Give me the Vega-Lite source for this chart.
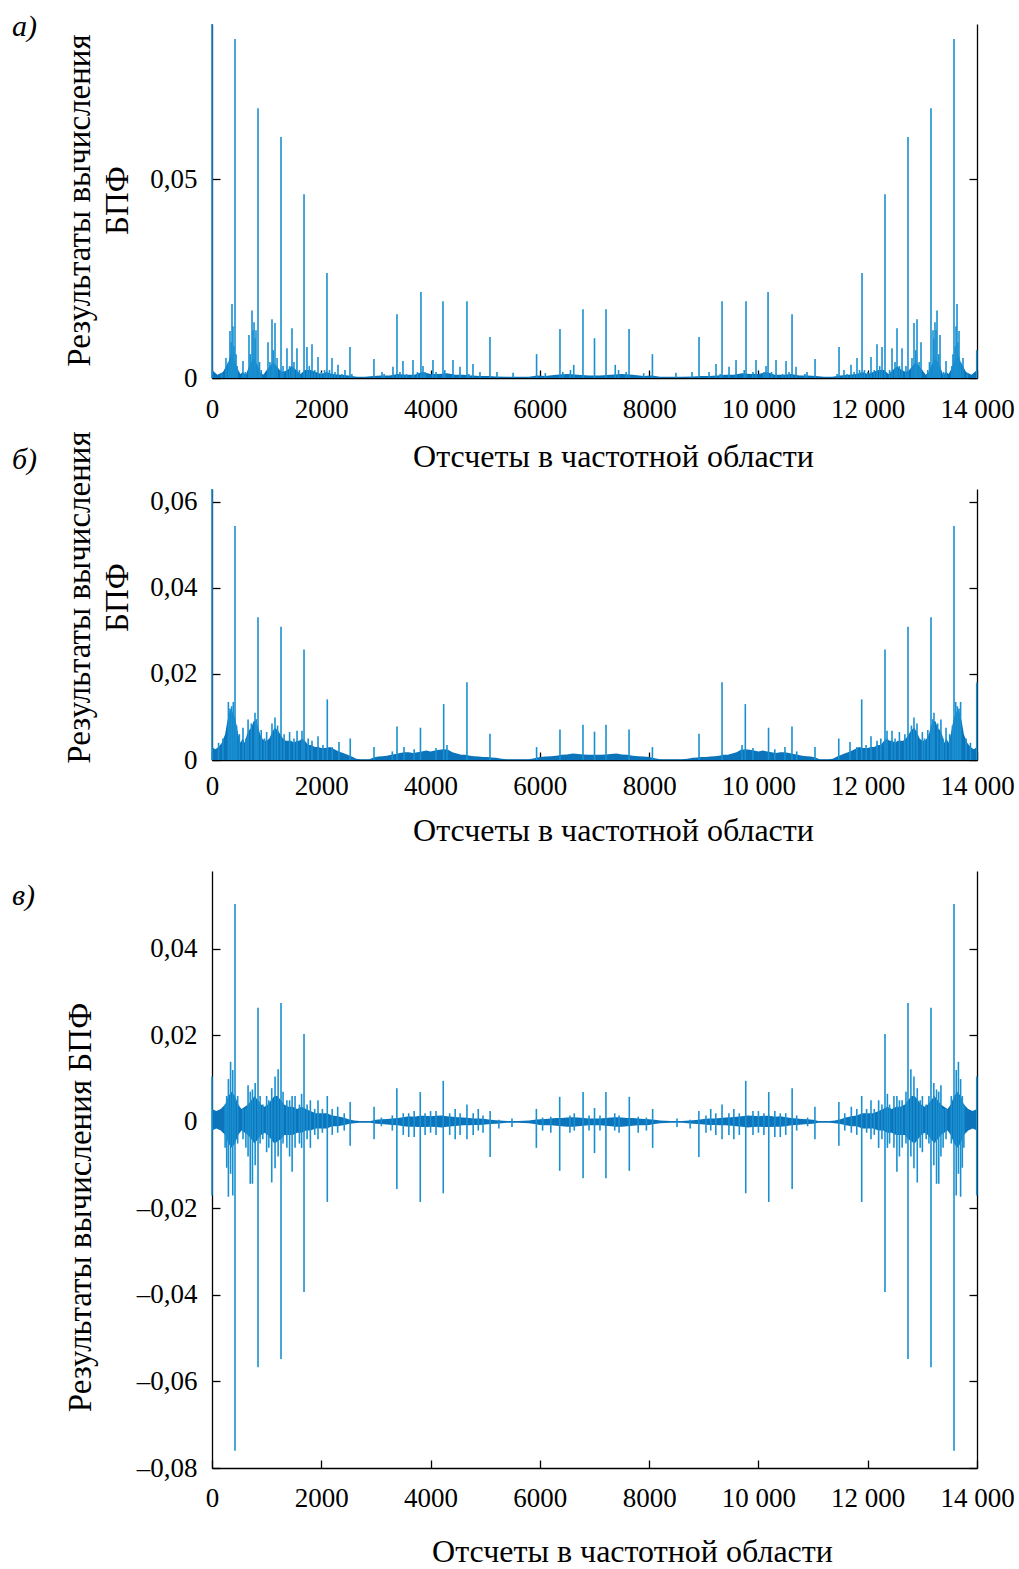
{
"$schema": "https://vega.github.io/schema/vega-lite/v6.json",
"background": "white",
"padding": {"left": 12, "top": 12, "right": 10, "bottom": 0},
"config": {
  "view": {"stroke": null},
  "axis": {"domainColor": "#000", "tickColor": "#000", "labelColor": "#000", "titleColor": "#000", "labelFont": "Liberation Serif", "titleFont": "Liberation Serif", "labelFontSize": 27, "titleFontSize": 32, "titleFontWeight": "normal", "grid": false, "domainWidth": 1.3, "tickWidth": 1.3}
},
"datasets": {
"aEnv": [{"x":0,"y":0.002},{"x":100,"y":0.0008},{"x":200,"y":0.0015},{"x":260,"y":0.003},{"x":300,"y":0.004},{"x":340,"y":0.006},{"x":380,"y":0.005},{"x":420,"y":0.004},{"x":460,"y":0.0025},{"x":520,"y":0.001},{"x":560,"y":0.0015},{"x":620,"y":0.0008},{"x":680,"y":0.003},{"x":720,"y":0.004},{"x":760,"y":0.005},{"x":800,"y":0.004},{"x":840,"y":0.003},{"x":880,"y":0.0015},{"x":940,"y":0.0008},{"x":1000,"y":0.002},{"x":1060,"y":0.003},{"x":1120,"y":0.004},{"x":1180,"y":0.003},{"x":1240,"y":0.002},{"x":1300,"y":0.0015},{"x":1380,"y":0.002},{"x":1460,"y":0.003},{"x":1540,"y":0.002},{"x":1620,"y":0.001},{"x":1700,"y":0.002},{"x":1800,"y":0.002},{"x":1900,"y":0.0015},{"x":2000,"y":0.001},{"x":2100,"y":0.0015},{"x":2200,"y":0.001},{"x":2350,"y":0.0008},{"x":2500,"y":0.0006},{"x":2650,"y":0.0003},{"x":2800,"y":0.0003},{"x":2950,"y":0.0005},{"x":3100,"y":0.0006},{"x":3250,"y":0.0006},{"x":3400,"y":0.001},{"x":3550,"y":0.0008},{"x":3700,"y":0.0008},{"x":3850,"y":0.0015},{"x":4000,"y":0.001},{"x":4150,"y":0.001},{"x":4300,"y":0.0012},{"x":4450,"y":0.0008},{"x":4600,"y":0.0008},{"x":4750,"y":0.0006},{"x":4900,"y":0.0005},{"x":5050,"y":0.0005},{"x":5200,"y":0.0004},{"x":5400,"y":0.0003},{"x":5600,"y":0.0003},{"x":5800,"y":0.0003},{"x":5950,"y":0.0006},{"x":6100,"y":0.0005},{"x":6300,"y":0.0008},{"x":6500,"y":0.001},{"x":6700,"y":0.0008},{"x":6900,"y":0.0006},{"x":7000,"y":0.0006},
{"x":7100,"y":0.0006},{"x":7300,"y":0.0008},{"x":7500,"y":0.001},{"x":7700,"y":0.0008},{"x":7900,"y":0.0005},{"x":8050,"y":0.0006},{"x":8200,"y":0.0003},{"x":8400,"y":0.0003},{"x":8600,"y":0.0003},{"x":8800,"y":0.0004},{"x":8950,"y":0.0005},{"x":9100,"y":0.0005},{"x":9250,"y":0.0006},{"x":9400,"y":0.0008},{"x":9550,"y":0.0008},{"x":9700,"y":0.0012},{"x":9850,"y":0.001},{"x":10000,"y":0.001},{"x":10150,"y":0.0015},{"x":10300,"y":0.0008},{"x":10450,"y":0.0008},{"x":10600,"y":0.001},{"x":10750,"y":0.0006},{"x":10900,"y":0.0006},{"x":11050,"y":0.0005},{"x":11200,"y":0.0003},{"x":11350,"y":0.0003},{"x":11500,"y":0.0006},{"x":11650,"y":0.0008},{"x":11800,"y":0.001},{"x":11900,"y":0.0015},{"x":12000,"y":0.001},{"x":12100,"y":0.0015},{"x":12200,"y":0.002},{"x":12300,"y":0.002},{"x":12380,"y":0.001},{"x":12460,"y":0.002},{"x":12540,"y":0.003},{"x":12620,"y":0.002},{"x":12700,"y":0.0015},{"x":12760,"y":0.002},{"x":12820,"y":0.003},{"x":12880,"y":0.004},{"x":12940,"y":0.003},{"x":13000,"y":0.002},{"x":13060,"y":0.0008},{"x":13120,"y":0.0015},{"x":13160,"y":0.003},{"x":13200,"y":0.004},{"x":13240,"y":0.005},{"x":13280,"y":0.004},{"x":13320,"y":0.003},{"x":13380,"y":0.0008},{"x":13440,"y":0.0015},{"x":13480,"y":0.001},{"x":13540,"y":0.0025},{"x":13580,"y":0.004},{"x":13620,"y":0.005},{"x":13660,"y":0.006},{"x":13700,"y":0.004},{"x":13740,"y":0.003},{"x":13800,"y":0.0015},{"x":13900,"y":0.0008},{"x":14000,"y":0.002}],
"aSpk": [{"x":0,"y":0.089},{"x":180,"y":0.0012},{"x":256,"y":0.005},{"x":300,"y":0.004},{"x":329,"y":0.0118},{"x":350,"y":0.009},{"x":366,"y":0.0186},{"x":384,"y":0.013},{"x":400,"y":0.008},{"x":421,"y":0.0852},{"x":440,"y":0.006},{"x":460,"y":0.003},{"x":567,"y":0.0043},{"x":610,"y":0.0015},{"x":677,"y":0.0108},{"x":700,"y":0.006},{"x":732,"y":0.017},{"x":750,"y":0.012},{"x":769,"y":0.014},{"x":790,"y":0.01},{"x":805,"y":0.012},{"x":842,"y":0.0678},{"x":870,"y":0.004},{"x":900,"y":0.002},{"x":1025,"y":0.009},{"x":1060,"y":0.004},{"x":1098,"y":0.0148},{"x":1120,"y":0.007},{"x":1153,"y":0.0138},{"x":1190,"y":0.005},{"x":1263,"y":0.0606},{"x":1300,"y":0.003},{"x":1372,"y":0.0075},{"x":1420,"y":0.003},{"x":1464,"y":0.0125},{"x":1500,"y":0.004},{"x":1555,"y":0.0075},{"x":1600,"y":0.002},{"x":1684,"y":0.0462},{"x":1738,"y":0.0078},{"x":1780,"y":0.003},{"x":1830,"y":0.0085},{"x":1880,"y":0.002},{"x":1940,"y":0.0053},{"x":2000,"y":0.0015},{"x":2060,"y":0.002},{"x":2104,"y":0.0264},{"x":2150,"y":0.002},{"x":2196,"y":0.005},{"x":2250,"y":0.0015},{"x":2306,"y":0.0033},{"x":2380,"y":0.001},{"x":2434,"y":0.002},{"x":2525,"y":0.0078},{"x":2560,"y":0.001},{"x":2964,"y":0.0048},{"x":3111,"y":0.0015},{"x":3150,"y":0.001},{"x":3312,"y":0.0028},{"x":3385,"y":0.016},{"x":3440,"y":0.0015},{"x":3495,"y":0.0043},{"x":3560,"y":0.001},{"x":3678,"y":0.0045},{"x":3760,"y":0.0015},{"x":3824,"y":0.0216},{"x":3861,"y":0.003},{"x":3900,"y":0.0015},{"x":4044,"y":0.0045},{"x":4100,"y":0.0015},{"x":4227,"y":0.0193},{"x":4260,"y":0.002},{"x":4410,"y":0.0045},{"x":4538,"y":0.0028},{"x":4666,"y":0.0193},{"x":4700,"y":0.001},{"x":4776,"y":0.0035},{"x":4904,"y":0.0015},{"x":5087,"y":0.0103},{"x":5215,"y":0.0015},{"x":5510,"y":0.0013},{"x":5940,"y":0.006},{"x":6100,"y":0.0012},{"x":6368,"y":0.0123},{"x":6420,"y":0.0015},{"x":6560,"y":0.002},{"x":6620,"y":0.0033},{"x":6789,"y":0.0173},{"x":7000,"y":0.01},
{"x":7211,"y":0.0173},{"x":7380,"y":0.0033},{"x":7440,"y":0.002},{"x":7580,"y":0.0015},{"x":7632,"y":0.0123},{"x":7900,"y":0.0012},{"x":8060,"y":0.006},{"x":8490,"y":0.0013},{"x":8785,"y":0.0015},{"x":8913,"y":0.0103},{"x":9096,"y":0.0015},{"x":9224,"y":0.0035},{"x":9300,"y":0.001},{"x":9334,"y":0.0193},{"x":9462,"y":0.0028},{"x":9590,"y":0.0045},{"x":9740,"y":0.002},{"x":9773,"y":0.0193},{"x":9900,"y":0.0015},{"x":9956,"y":0.0045},{"x":10100,"y":0.0015},{"x":10139,"y":0.003},{"x":10176,"y":0.0216},{"x":10240,"y":0.0015},{"x":10322,"y":0.0045},{"x":10440,"y":0.001},{"x":10505,"y":0.0043},{"x":10560,"y":0.0015},{"x":10615,"y":0.016},{"x":10688,"y":0.0028},{"x":10850,"y":0.001},{"x":10889,"y":0.0015},{"x":11036,"y":0.0048},{"x":11440,"y":0.001},{"x":11475,"y":0.0078},{"x":11566,"y":0.002},{"x":11620,"y":0.001},{"x":11694,"y":0.0033},{"x":11750,"y":0.0015},{"x":11804,"y":0.005},{"x":11850,"y":0.002},{"x":11896,"y":0.0264},{"x":11940,"y":0.002},{"x":12000,"y":0.0015},{"x":12060,"y":0.0053},{"x":12120,"y":0.002},{"x":12170,"y":0.0085},{"x":12220,"y":0.003},{"x":12262,"y":0.0078},{"x":12316,"y":0.0462},{"x":12400,"y":0.002},{"x":12445,"y":0.0075},{"x":12500,"y":0.004},{"x":12536,"y":0.0125},{"x":12580,"y":0.003},{"x":12628,"y":0.0075},{"x":12700,"y":0.003},{"x":12737,"y":0.0606},{"x":12810,"y":0.005},{"x":12847,"y":0.0138},{"x":12880,"y":0.007},{"x":12902,"y":0.0148},{"x":12940,"y":0.004},{"x":12975,"y":0.009},{"x":13100,"y":0.002},{"x":13130,"y":0.004},{"x":13158,"y":0.0678},{"x":13195,"y":0.012},{"x":13210,"y":0.01},{"x":13231,"y":0.014},{"x":13250,"y":0.012},{"x":13268,"y":0.017},{"x":13300,"y":0.006},{"x":13323,"y":0.0108},{"x":13390,"y":0.0015},{"x":13433,"y":0.0043},{"x":13540,"y":0.003},{"x":13560,"y":0.006},{"x":13579,"y":0.0852},{"x":13600,"y":0.008},{"x":13616,"y":0.013},{"x":13634,"y":0.0186},{"x":13650,"y":0.009},{"x":13671,"y":0.0118},{"x":13700,"y":0.004},{"x":13744,"y":0.005},{"x":13820,"y":0.0012},{"x":13995,"y":0.007}],
"bEnv": [{"x":0,"y":0.003},{"x":60,"y":0.0025},{"x":120,"y":0.003},{"x":180,"y":0.004},{"x":240,"y":0.006},{"x":280,"y":0.009},{"x":320,"y":0.011},{"x":350,"y":0.012},{"x":380,"y":0.011},{"x":420,"y":0.01},{"x":450,"y":0.008},{"x":480,"y":0.006},{"x":520,"y":0.004},{"x":560,"y":0.005},{"x":600,"y":0.004},{"x":640,"y":0.006},{"x":680,"y":0.007},{"x":720,"y":0.0075},{"x":760,"y":0.009},{"x":800,"y":0.009},{"x":840,"y":0.008},{"x":880,"y":0.006},{"x":920,"y":0.005},{"x":960,"y":0.0045},{"x":1000,"y":0.0045},{"x":1050,"y":0.005},{"x":1100,"y":0.0065},{"x":1150,"y":0.0075},{"x":1200,"y":0.007},{"x":1250,"y":0.006},{"x":1300,"y":0.005},{"x":1350,"y":0.0045},{"x":1400,"y":0.0045},{"x":1450,"y":0.0045},{"x":1500,"y":0.004},{"x":1550,"y":0.0045},{"x":1600,"y":0.0045},{"x":1650,"y":0.005},{"x":1700,"y":0.0045},{"x":1760,"y":0.0035},{"x":1820,"y":0.0035},{"x":1880,"y":0.003},{"x":1940,"y":0.003},{"x":2000,"y":0.0028},{"x":2080,"y":0.0028},{"x":2160,"y":0.003},{"x":2240,"y":0.0025},{"x":2320,"y":0.002},{"x":2400,"y":0.0016},{"x":2480,"y":0.0012},{"x":2560,"y":0.0008},{"x":2640,"y":0.0003},{"x":2720,"y":0.0002},{"x":2800,"y":0.0002},{"x":2880,"y":0.0002},{"x":2960,"y":0.0006},{"x":3040,"y":0.0008},{"x":3120,"y":0.0009},{"x":3200,"y":0.001},{"x":3280,"y":0.0012},{"x":3360,"y":0.0014},{"x":3440,"y":0.0016},{"x":3520,"y":0.0018},{"x":3600,"y":0.0018},{"x":3680,"y":0.0016},{"x":3760,"y":0.0018},{"x":3840,"y":0.002},{"x":3920,"y":0.0022},{"x":4000,"y":0.002},{"x":4080,"y":0.0022},{"x":4160,"y":0.0024},{"x":4240,"y":0.0025},{"x":4320,"y":0.0024},{"x":4400,"y":0.0018},{"x":4480,"y":0.0015},{"x":4560,"y":0.0012},{"x":4640,"y":0.0012},{"x":4720,"y":0.001},{"x":4800,"y":0.0009},{"x":4880,"y":0.0008},{"x":4960,"y":0.0007},{"x":5040,"y":0.0007},{"x":5120,"y":0.0006},{"x":5200,"y":0.0005},{"x":5300,"y":0.0003},{"x":5400,"y":0.0002},{"x":5500,"y":0.0002},{"x":5600,"y":0.0002},{"x":5700,"y":0.0002},{"x":5800,"y":0.0002},{"x":5900,"y":0.0004},{"x":6000,"y":0.0007},{"x":6100,"y":0.0008},{"x":6200,"y":0.0009},{"x":6300,"y":0.001},{"x":6400,"y":0.0012},{"x":6500,"y":0.0013},{"x":6600,"y":0.0015},{"x":6700,"y":0.0014},{"x":6800,"y":0.0013},{"x":6900,"y":0.0012},{"x":7000,"y":0.0012},
{"x":7100,"y":0.0012},{"x":7200,"y":0.0013},{"x":7300,"y":0.0014},{"x":7400,"y":0.0015},{"x":7500,"y":0.0013},{"x":7600,"y":0.0012},{"x":7700,"y":0.001},{"x":7800,"y":0.0009},{"x":7900,"y":0.0008},{"x":8000,"y":0.0007},{"x":8100,"y":0.0004},{"x":8200,"y":0.0002},{"x":8300,"y":0.0002},{"x":8400,"y":0.0002},{"x":8500,"y":0.0002},{"x":8600,"y":0.0002},{"x":8700,"y":0.0003},{"x":8800,"y":0.0005},{"x":8880,"y":0.0006},{"x":8960,"y":0.0007},{"x":9040,"y":0.0007},{"x":9120,"y":0.0008},{"x":9200,"y":0.0009},{"x":9280,"y":0.001},{"x":9360,"y":0.0012},{"x":9440,"y":0.0012},{"x":9520,"y":0.0015},{"x":9600,"y":0.0018},{"x":9680,"y":0.0024},{"x":9760,"y":0.0025},{"x":9840,"y":0.0024},{"x":9920,"y":0.0022},{"x":10000,"y":0.002},{"x":10080,"y":0.0022},{"x":10160,"y":0.002},{"x":10240,"y":0.0018},{"x":10320,"y":0.0016},{"x":10400,"y":0.0018},{"x":10480,"y":0.0018},{"x":10560,"y":0.0016},{"x":10640,"y":0.0014},{"x":10720,"y":0.0012},{"x":10800,"y":0.001},{"x":10880,"y":0.0009},{"x":10960,"y":0.0008},{"x":11040,"y":0.0006},{"x":11120,"y":0.0002},{"x":11200,"y":0.0002},{"x":11280,"y":0.0002},{"x":11360,"y":0.0003},{"x":11440,"y":0.0008},{"x":11520,"y":0.0012},{"x":11600,"y":0.0016},{"x":11680,"y":0.002},{"x":11760,"y":0.0025},{"x":11840,"y":0.003},{"x":11920,"y":0.0028},{"x":12000,"y":0.0028},{"x":12060,"y":0.003},{"x":12120,"y":0.003},{"x":12180,"y":0.0035},{"x":12240,"y":0.0035},{"x":12300,"y":0.0045},{"x":12350,"y":0.005},{"x":12400,"y":0.0045},{"x":12450,"y":0.0045},{"x":12500,"y":0.004},{"x":12550,"y":0.0045},{"x":12600,"y":0.0045},{"x":12650,"y":0.0045},{"x":12700,"y":0.005},{"x":12750,"y":0.006},{"x":12800,"y":0.007},{"x":12850,"y":0.0075},{"x":12900,"y":0.0065},{"x":12950,"y":0.005},{"x":13000,"y":0.0045},{"x":13040,"y":0.0045},{"x":13080,"y":0.005},{"x":13120,"y":0.006},{"x":13160,"y":0.008},{"x":13200,"y":0.009},{"x":13240,"y":0.009},{"x":13280,"y":0.0075},{"x":13320,"y":0.007},{"x":13360,"y":0.006},{"x":13400,"y":0.004},{"x":13440,"y":0.005},{"x":13480,"y":0.004},{"x":13520,"y":0.006},{"x":13550,"y":0.008},{"x":13580,"y":0.01},{"x":13620,"y":0.011},{"x":13650,"y":0.012},{"x":13680,"y":0.011},{"x":13720,"y":0.009},{"x":13760,"y":0.006},{"x":13820,"y":0.004},{"x":13880,"y":0.003},{"x":13940,"y":0.0025},{"x":14000,"y":0.003}],
"bSpk": [{"x":0,"y":0.063},{"x":120,"y":0.004},{"x":200,"y":0.005},{"x":300,"y":0.0135},{"x":329,"y":0.012},{"x":360,"y":0.0125},{"x":390,"y":0.0135},{"x":421,"y":0.0544},{"x":450,"y":0.008},{"x":500,"y":0.006},{"x":567,"y":0.0075},{"x":620,"y":0.005},{"x":660,"y":0.0094},{"x":720,"y":0.0085},{"x":787,"y":0.011},{"x":810,"y":0.0095},{"x":842,"y":0.0332},{"x":900,"y":0.007},{"x":960,"y":0.005},{"x":1000,"y":0.0065},{"x":1098,"y":0.0085},{"x":1153,"y":0.0099},{"x":1200,"y":0.008},{"x":1263,"y":0.031},{"x":1320,"y":0.006},{"x":1420,"y":0.0065},{"x":1500,"y":0.005},{"x":1556,"y":0.0068},{"x":1647,"y":0.0068},{"x":1684,"y":0.0257},{"x":1760,"y":0.005},{"x":1830,"y":0.0045},{"x":1940,"y":0.0055},{"x":2030,"y":0.0035},{"x":2110,"y":0.0141},{"x":2200,"y":0.003},{"x":2324,"y":0.0042},{"x":2530,"y":0.005},{"x":2965,"y":0.003},{"x":3300,"y":0.002},{"x":3386,"y":0.0078},{"x":3514,"y":0.003},{"x":3700,"y":0.0025},{"x":3815,"y":0.0075},{"x":4100,"y":0.0028},{"x":4240,"y":0.013},{"x":4300,"y":0.0035},{"x":4666,"y":0.0181},{"x":5087,"y":0.0061},{"x":5940,"y":0.003},{"x":6368,"y":0.0071},{"x":6789,"y":0.0082},{"x":7000,"y":0.0066},
{"x":7211,"y":0.0082},{"x":7632,"y":0.0071},{"x":8060,"y":0.003},{"x":8913,"y":0.0061},{"x":9334,"y":0.0181},{"x":9700,"y":0.0035},{"x":9760,"y":0.013},{"x":9900,"y":0.0028},{"x":10185,"y":0.0075},{"x":10300,"y":0.0025},{"x":10486,"y":0.003},{"x":10614,"y":0.0078},{"x":10700,"y":0.002},{"x":11035,"y":0.003},{"x":11470,"y":0.005},{"x":11676,"y":0.0042},{"x":11800,"y":0.003},{"x":11890,"y":0.0141},{"x":11970,"y":0.0035},{"x":12060,"y":0.0055},{"x":12170,"y":0.0045},{"x":12240,"y":0.005},{"x":12316,"y":0.0257},{"x":12353,"y":0.0068},{"x":12444,"y":0.0068},{"x":12500,"y":0.005},{"x":12580,"y":0.0065},{"x":12680,"y":0.006},{"x":12737,"y":0.031},{"x":12800,"y":0.008},{"x":12847,"y":0.0099},{"x":12902,"y":0.0085},{"x":13000,"y":0.0065},{"x":13040,"y":0.005},{"x":13100,"y":0.007},{"x":13158,"y":0.0332},{"x":13190,"y":0.0095},{"x":13213,"y":0.011},{"x":13280,"y":0.0085},{"x":13340,"y":0.0094},{"x":13380,"y":0.005},{"x":13433,"y":0.0075},{"x":13500,"y":0.006},{"x":13550,"y":0.008},{"x":13579,"y":0.0544},{"x":13610,"y":0.0135},{"x":13640,"y":0.0125},{"x":13671,"y":0.012},{"x":13700,"y":0.0135},{"x":13800,"y":0.005},{"x":13880,"y":0.004},{"x":13995,"y":0.018}],
"cEnv": [{"x":0,"lo":-0.002,"hi":0.003},{"x":80,"lo":-0.0015,"hi":0.0025},{"x":160,"lo":-0.002,"hi":0.003},{"x":240,"lo":-0.003,"hi":0.004},{"x":300,"lo":-0.005,"hi":0.006},{"x":360,"lo":-0.006,"hi":0.007},{"x":420,"lo":-0.005,"hi":0.006},{"x":480,"lo":-0.003,"hi":0.004},{"x":540,"lo":-0.002,"hi":0.003},{"x":600,"lo":-0.0025,"hi":0.0035},{"x":660,"lo":-0.003,"hi":0.004},{"x":720,"lo":-0.004,"hi":0.005},{"x":780,"lo":-0.005,"hi":0.006},{"x":840,"lo":-0.004,"hi":0.005},{"x":900,"lo":-0.003,"hi":0.004},{"x":960,"lo":-0.0025,"hi":0.0035},{"x":1020,"lo":-0.003,"hi":0.004},{"x":1080,"lo":-0.004,"hi":0.005},{"x":1140,"lo":-0.005,"hi":0.006},{"x":1200,"lo":-0.0045,"hi":0.006},{"x":1260,"lo":-0.004,"hi":0.005},{"x":1320,"lo":-0.003,"hi":0.004},{"x":1400,"lo":-0.003,"hi":0.0035},{"x":1480,"lo":-0.003,"hi":0.0035},{"x":1560,"lo":-0.0025,"hi":0.003},{"x":1640,"lo":-0.0025,"hi":0.0035},{"x":1720,"lo":-0.002,"hi":0.003},{"x":1800,"lo":-0.002,"hi":0.0025},{"x":1900,"lo":-0.0015,"hi":0.002},{"x":2000,"lo":-0.0015,"hi":0.002},{"x":2100,"lo":-0.0015,"hi":0.002},{"x":2200,"lo":-0.001,"hi":0.0015},{"x":2300,"lo":-0.001,"hi":0.0013},{"x":2400,"lo":-0.0008,"hi":0.001},{"x":2500,"lo":-0.0005,"hi":0.0006},{"x":2600,"lo":-0.0003,"hi":0.0003},{"x":2700,"lo":-0.0002,"hi":0.0002},{"x":2800,"lo":-0.0002,"hi":0.0002},{"x":2900,"lo":-0.0002,"hi":0.0002},{"x":3000,"lo":-0.0004,"hi":0.0005},{"x":3100,"lo":-0.0005,"hi":0.0006},{"x":3200,"lo":-0.0006,"hi":0.0007},{"x":3300,"lo":-0.0007,"hi":0.0008},{"x":3400,"lo":-0.0008,"hi":0.0009},{"x":3500,"lo":-0.001,"hi":0.0011},{"x":3600,"lo":-0.0011,"hi":0.0013},{"x":3700,"lo":-0.0011,"hi":0.0012},{"x":3800,"lo":-0.0012,"hi":0.0014},{"x":3900,"lo":-0.0012,"hi":0.0014},{"x":4000,"lo":-0.0011,"hi":0.0013},{"x":4100,"lo":-0.0012,"hi":0.0014},{"x":4200,"lo":-0.0013,"hi":0.0015},{"x":4300,"lo":-0.0011,"hi":0.0013},{"x":4400,"lo":-0.001,"hi":0.0012},{"x":4500,"lo":-0.0009,"hi":0.0011},{"x":4600,"lo":-0.0008,"hi":0.001},{"x":4700,"lo":-0.0008,"hi":0.0009},{"x":4800,"lo":-0.0007,"hi":0.0008},{"x":4900,"lo":-0.0007,"hi":0.0008},{"x":5000,"lo":-0.0006,"hi":0.0007},{"x":5100,"lo":-0.0005,"hi":0.0005},{"x":5200,"lo":-0.0004,"hi":0.0004},{"x":5400,"lo":-0.0002,"hi":0.0002},{"x":5600,"lo":-0.0002,"hi":0.0002},{"x":5800,"lo":-0.0003,"hi":0.0003},{"x":5900,"lo":-0.0005,"hi":0.0005},{"x":6000,"lo":-0.0007,"hi":0.0006},{"x":6100,"lo":-0.0008,"hi":0.0007},{"x":6200,"lo":-0.0008,"hi":0.0008},{"x":6300,"lo":-0.0009,"hi":0.0009},{"x":6400,"lo":-0.001,"hi":0.0009},{"x":6500,"lo":-0.0011,"hi":0.001},{"x":6600,"lo":-0.0011,"hi":0.0011},{"x":6700,"lo":-0.001,"hi":0.001},{"x":6800,"lo":-0.0009,"hi":0.0009},{"x":6900,"lo":-0.0008,"hi":0.0008},{"x":7000,"lo":-0.0008,"hi":0.0008},
{"x":7100,"lo":-0.0008,"hi":0.0008},{"x":7200,"lo":-0.0009,"hi":0.0009},{"x":7300,"lo":-0.001,"hi":0.001},{"x":7400,"lo":-0.0011,"hi":0.0011},{"x":7500,"lo":-0.0011,"hi":0.001},{"x":7600,"lo":-0.001,"hi":0.0009},{"x":7700,"lo":-0.0009,"hi":0.0009},{"x":7800,"lo":-0.0008,"hi":0.0008},{"x":7900,"lo":-0.0008,"hi":0.0007},{"x":8000,"lo":-0.0007,"hi":0.0006},{"x":8100,"lo":-0.0005,"hi":0.0005},{"x":8200,"lo":-0.0003,"hi":0.0003},{"x":8400,"lo":-0.0002,"hi":0.0002},{"x":8600,"lo":-0.0002,"hi":0.0002},{"x":8800,"lo":-0.0004,"hi":0.0004},{"x":8900,"lo":-0.0005,"hi":0.0005},{"x":9000,"lo":-0.0006,"hi":0.0007},{"x":9100,"lo":-0.0007,"hi":0.0008},{"x":9200,"lo":-0.0007,"hi":0.0008},{"x":9300,"lo":-0.0008,"hi":0.0009},{"x":9400,"lo":-0.0008,"hi":0.001},{"x":9500,"lo":-0.0009,"hi":0.0011},{"x":9600,"lo":-0.001,"hi":0.0012},{"x":9700,"lo":-0.0011,"hi":0.0013},{"x":9800,"lo":-0.0013,"hi":0.0015},{"x":9900,"lo":-0.0012,"hi":0.0014},{"x":10000,"lo":-0.0011,"hi":0.0013},{"x":10100,"lo":-0.0012,"hi":0.0014},{"x":10200,"lo":-0.0012,"hi":0.0014},{"x":10300,"lo":-0.0011,"hi":0.0012},{"x":10400,"lo":-0.0011,"hi":0.0013},{"x":10500,"lo":-0.001,"hi":0.0011},{"x":10600,"lo":-0.0008,"hi":0.0009},{"x":10700,"lo":-0.0007,"hi":0.0008},{"x":10800,"lo":-0.0006,"hi":0.0007},{"x":10900,"lo":-0.0005,"hi":0.0006},{"x":11000,"lo":-0.0004,"hi":0.0005},{"x":11100,"lo":-0.0002,"hi":0.0002},{"x":11200,"lo":-0.0002,"hi":0.0002},{"x":11300,"lo":-0.0002,"hi":0.0002},{"x":11400,"lo":-0.0003,"hi":0.0003},{"x":11500,"lo":-0.0005,"hi":0.0006},{"x":11600,"lo":-0.0008,"hi":0.001},{"x":11700,"lo":-0.001,"hi":0.0013},{"x":11800,"lo":-0.001,"hi":0.0015},{"x":11900,"lo":-0.0015,"hi":0.002},{"x":12000,"lo":-0.0015,"hi":0.002},{"x":12100,"lo":-0.0015,"hi":0.002},{"x":12200,"lo":-0.002,"hi":0.0025},{"x":12280,"lo":-0.002,"hi":0.003},{"x":12360,"lo":-0.0025,"hi":0.0035},{"x":12440,"lo":-0.0025,"hi":0.003},{"x":12520,"lo":-0.003,"hi":0.0035},{"x":12600,"lo":-0.003,"hi":0.0035},{"x":12680,"lo":-0.003,"hi":0.004},{"x":12740,"lo":-0.004,"hi":0.005},{"x":12800,"lo":-0.0045,"hi":0.006},{"x":12860,"lo":-0.005,"hi":0.006},{"x":12920,"lo":-0.004,"hi":0.005},{"x":12980,"lo":-0.003,"hi":0.004},{"x":13040,"lo":-0.0025,"hi":0.0035},{"x":13100,"lo":-0.003,"hi":0.004},{"x":13160,"lo":-0.004,"hi":0.005},{"x":13220,"lo":-0.005,"hi":0.006},{"x":13280,"lo":-0.004,"hi":0.005},{"x":13340,"lo":-0.003,"hi":0.004},{"x":13400,"lo":-0.0025,"hi":0.0035},{"x":13460,"lo":-0.002,"hi":0.003},{"x":13520,"lo":-0.003,"hi":0.004},{"x":13580,"lo":-0.005,"hi":0.006},{"x":13640,"lo":-0.006,"hi":0.007},{"x":13700,"lo":-0.005,"hi":0.006},{"x":13760,"lo":-0.003,"hi":0.004},{"x":13840,"lo":-0.002,"hi":0.003},{"x":13920,"lo":-0.0015,"hi":0.0025},{"x":14000,"lo":-0.002,"hi":0.003}],
"cSpk": [{"x":0,"lo":-0.017,"hi":0.0105},{"x":240,"lo":-0.006,"hi":0.004},{"x":269,"lo":-0.0106,"hi":0.006},{"x":300,"lo":-0.0173,"hi":0.0099},{"x":340,"lo":-0.012,"hi":0.0139},{"x":380,"lo":-0.017,"hi":0.012},{"x":421,"lo":-0.076,"hi":0.0504},{"x":470,"lo":-0.005,"hi":0.006},{"x":567,"lo":-0.004,"hi":0.003},{"x":620,"lo":-0.006,"hi":0.003},{"x":660,"lo":-0.008,"hi":0.0085},{"x":700,"lo":-0.0143,"hi":0.007},{"x":740,"lo":-0.0143,"hi":0.0075},{"x":790,"lo":-0.01,"hi":0.009},{"x":842,"lo":-0.0567,"hi":0.0264},{"x":880,"lo":-0.005,"hi":0.006},{"x":930,"lo":-0.004,"hi":0.004},{"x":1000,"lo":-0.007,"hi":0.006},{"x":1040,"lo":-0.006,"hi":0.005},{"x":1093,"lo":-0.014,"hi":0.0078},{"x":1154,"lo":-0.0107,"hi":0.0105},{"x":1210,"lo":-0.008,"hi":0.0122},{"x":1263,"lo":-0.0548,"hi":0.0275},{"x":1300,"lo":-0.005,"hi":0.007},{"x":1370,"lo":-0.006,"hi":0.005},{"x":1420,"lo":-0.008,"hi":0.005},{"x":1466,"lo":-0.0115,"hi":0.006},{"x":1520,"lo":-0.006,"hi":0.006},{"x":1600,"lo":-0.005,"hi":0.004},{"x":1640,"lo":-0.006,"hi":0.0065},{"x":1684,"lo":-0.0393,"hi":0.0203},{"x":1740,"lo":-0.004,"hi":0.004},{"x":1800,"lo":-0.006,"hi":0.005},{"x":1880,"lo":-0.003,"hi":0.003},{"x":1940,"lo":-0.004,"hi":0.005},{"x":2020,"lo":-0.0025,"hi":0.003},{"x":2110,"lo":-0.0185,"hi":0.006},{"x":2200,"lo":-0.003,"hi":0.003},{"x":2300,"lo":-0.0025,"hi":0.0035},{"x":2420,"lo":-0.002,"hi":0.002},{"x":2528,"lo":-0.0055,"hi":0.0046},{"x":2966,"lo":-0.004,"hi":0.0035},{"x":3100,"lo":-0.001,"hi":0.001},{"x":3300,"lo":-0.002,"hi":0.0015},{"x":3383,"lo":-0.0155,"hi":0.0078},{"x":3500,"lo":-0.003,"hi":0.002},{"x":3600,"lo":-0.0035,"hi":0.002},{"x":3700,"lo":-0.0035,"hi":0.0025},{"x":3811,"lo":-0.0185,"hi":0.0069},{"x":3900,"lo":-0.003,"hi":0.002},{"x":4000,"lo":-0.0025,"hi":0.0025},{"x":4100,"lo":-0.003,"hi":0.0025},{"x":4232,"lo":-0.0165,"hi":0.0095},{"x":4350,"lo":-0.003,"hi":0.002},{"x":4450,"lo":-0.004,"hi":0.003},{"x":4540,"lo":-0.003,"hi":0.002},{"x":4666,"lo":-0.004,"hi":0.004},{"x":4780,"lo":-0.003,"hi":0.002},{"x":4873,"lo":-0.002,"hi":0.003},{"x":4960,"lo":-0.0025,"hi":0.0015},{"x":5090,"lo":-0.0081,"hi":0.0025},{"x":5250,"lo":-0.0015,"hi":0.0005},{"x":5490,"lo":-0.0012,"hi":0.0008},{"x":5936,"lo":-0.006,"hi":0.003},{"x":6050,"lo":-0.002,"hi":0.001},{"x":6200,"lo":-0.0025,"hi":0.0012},{"x":6363,"lo":-0.0113,"hi":0.0058},{"x":6550,"lo":-0.0025,"hi":0.0015},{"x":6630,"lo":-0.002,"hi":0.002},{"x":6791,"lo":-0.013,"hi":0.0069},{"x":6900,"lo":-0.002,"hi":0.0015},{"x":7000,"lo":-0.0072,"hi":0.0032},
{"x":7100,"lo":-0.002,"hi":0.0015},{"x":7209,"lo":-0.013,"hi":0.0069},{"x":7370,"lo":-0.002,"hi":0.002},{"x":7450,"lo":-0.0025,"hi":0.0015},{"x":7637,"lo":-0.0113,"hi":0.0058},{"x":7800,"lo":-0.0025,"hi":0.0012},{"x":7950,"lo":-0.002,"hi":0.001},{"x":8064,"lo":-0.006,"hi":0.003},{"x":8510,"lo":-0.0012,"hi":0.0008},{"x":8750,"lo":-0.0015,"hi":0.0005},{"x":8910,"lo":-0.0081,"hi":0.0025},{"x":9040,"lo":-0.0025,"hi":0.0015},{"x":9127,"lo":-0.002,"hi":0.003},{"x":9220,"lo":-0.003,"hi":0.002},{"x":9334,"lo":-0.004,"hi":0.004},{"x":9460,"lo":-0.003,"hi":0.002},{"x":9550,"lo":-0.004,"hi":0.003},{"x":9650,"lo":-0.003,"hi":0.002},{"x":9768,"lo":-0.0165,"hi":0.0095},{"x":9900,"lo":-0.003,"hi":0.0025},{"x":10000,"lo":-0.0025,"hi":0.0025},{"x":10100,"lo":-0.003,"hi":0.002},{"x":10189,"lo":-0.0185,"hi":0.0069},{"x":10300,"lo":-0.0035,"hi":0.0025},{"x":10400,"lo":-0.0035,"hi":0.002},{"x":10500,"lo":-0.003,"hi":0.002},{"x":10617,"lo":-0.0155,"hi":0.0078},{"x":10700,"lo":-0.002,"hi":0.0015},{"x":10900,"lo":-0.001,"hi":0.001},{"x":11034,"lo":-0.004,"hi":0.0035},{"x":11472,"lo":-0.0055,"hi":0.0046},{"x":11580,"lo":-0.002,"hi":0.002},{"x":11700,"lo":-0.0025,"hi":0.0035},{"x":11800,"lo":-0.003,"hi":0.003},{"x":11890,"lo":-0.0185,"hi":0.006},{"x":11980,"lo":-0.0025,"hi":0.003},{"x":12060,"lo":-0.004,"hi":0.005},{"x":12120,"lo":-0.003,"hi":0.003},{"x":12200,"lo":-0.006,"hi":0.005},{"x":12260,"lo":-0.004,"hi":0.004},{"x":12316,"lo":-0.0393,"hi":0.0203},{"x":12360,"lo":-0.006,"hi":0.0065},{"x":12400,"lo":-0.005,"hi":0.004},{"x":12480,"lo":-0.006,"hi":0.006},{"x":12534,"lo":-0.0115,"hi":0.006},{"x":12580,"lo":-0.008,"hi":0.005},{"x":12630,"lo":-0.006,"hi":0.005},{"x":12700,"lo":-0.005,"hi":0.007},{"x":12737,"lo":-0.0548,"hi":0.0275},{"x":12790,"lo":-0.008,"hi":0.0122},{"x":12846,"lo":-0.0107,"hi":0.0105},{"x":12907,"lo":-0.014,"hi":0.0078},{"x":12960,"lo":-0.006,"hi":0.005},{"x":13000,"lo":-0.007,"hi":0.006},{"x":13070,"lo":-0.004,"hi":0.004},{"x":13120,"lo":-0.005,"hi":0.006},{"x":13158,"lo":-0.0567,"hi":0.0264},{"x":13210,"lo":-0.01,"hi":0.009},{"x":13260,"lo":-0.0143,"hi":0.0075},{"x":13300,"lo":-0.0143,"hi":0.007},{"x":13340,"lo":-0.008,"hi":0.0085},{"x":13380,"lo":-0.006,"hi":0.003},{"x":13433,"lo":-0.004,"hi":0.003},{"x":13530,"lo":-0.005,"hi":0.006},{"x":13579,"lo":-0.076,"hi":0.0504},{"x":13620,"lo":-0.017,"hi":0.012},{"x":13660,"lo":-0.012,"hi":0.0139},{"x":13700,"lo":-0.0173,"hi":0.0099},{"x":13731,"lo":-0.0106,"hi":0.006},{"x":13760,"lo":-0.006,"hi":0.004},{"x":13995,"lo":-0.017,"hi":0.0105}]
},
"bounds": "flush",
"spacing": 111,
"vconcat": [
{
  "width": 765, "height": 354,
  "title": {"text": "а)", "anchor": "start", "frame": "group", "orient": "top", "offset": 0, "dx": -200, "dy": 43, "baseline": "alphabetic", "font": "Liberation Serif", "fontSize": 30, "fontStyle": "italic", "fontWeight": "normal", "color": "#000"},
  "layer": [
    {"data": {"name": "aEnv"}, "mark": {"type": "area", "color": "#0b74bb"},
     "encoding": {
       "x": {"field": "x", "type": "quantitative", "scale": {"domain": [0, 14000], "nice": false, "zero": false},
             "axis": {"values": [0,2000,4000,6000,8000,10000,12000,14000], "labelExpr": "datum.value >= 10000 ? floor(datum.value/1000) + ' 000' : format(datum.value, 'd')", "labelFlush": false, "labelOverlap": false, "labelBaseline": "alphabetic", "labelPadding": 47, "tickSize": -8, "title": "Отсчеты в частотной области", "titleX": 401, "titleY": 88, "titleBaseline": "alphabetic", "titleAlign": "center"}},
       "y": {"field": "y", "type": "quantitative", "scale": {"domain": [0, 0.089], "nice": false, "zero": false},
             "axis": {"values": [0, 0.05], "labelExpr": "datum.value == 0 ? '0' : (datum.value < 0 ? '–' : '') + replace(format(abs(datum.value), '.2f'), '.', ',')", "labelPadding": 23, "tickSize": -8, "labelFlush": false, "title": ["Результаты вычисления", "БПФ"], "titleFontSize": 33, "titleX": -123, "titleY": 176, "titleLineHeight": 38, "titleBaseline": "alphabetic", "titleAlign": "center", "titleAngle": -90}},
       "y2": {"datum": 0}
     }},
    {"data": {"name": "aSpk"}, "mark": {"type": "rule", "color": "#1a90d1", "strokeWidth": 1.6},
     "encoding": {
       "x": {"field": "x", "type": "quantitative", "scale": {"domain": [0, 14000], "nice": false, "zero": false}},
       "y": {"field": "y", "type": "quantitative", "scale": {"domain": [0, 0.089], "nice": false, "zero": false},
             "axis": {"orient": "right", "values": [0, 0.05], "labels": false, "title": null, "tickSize": -8}},
       "y2": {"datum": 0}
     }}
  ],
  "resolve": {"axis": {"y": "independent"}}
},
{
  "width": 765, "height": 271,
  "title": {"text": "б)", "anchor": "start", "frame": "group", "orient": "top", "offset": 0, "dx": -200, "dy": 68, "baseline": "alphabetic", "font": "Liberation Serif", "fontSize": 30, "fontStyle": "italic", "fontWeight": "normal", "color": "#000"},
  "layer": [
    {"data": {"name": "bEnv"}, "mark": {"type": "area", "color": "#0b74bb"},
     "encoding": {
       "x": {"field": "x", "type": "quantitative", "scale": {"domain": [0, 14000], "nice": false, "zero": false},
             "axis": {"values": [0,2000,4000,6000,8000,10000,12000,14000], "labelExpr": "datum.value >= 10000 ? floor(datum.value/1000) + ' 000' : format(datum.value, 'd')", "labelFlush": false, "labelOverlap": false, "labelBaseline": "alphabetic", "labelPadding": 42, "tickSize": -8, "title": "Отсчеты в частотной области", "titleX": 401, "titleY": 80, "titleBaseline": "alphabetic", "titleAlign": "center"}},
       "y": {"field": "y", "type": "quantitative", "scale": {"domain": [0, 0.063], "nice": false, "zero": false},
             "axis": {"values": [0, 0.02, 0.04, 0.06], "labelExpr": "datum.value == 0 ? '0' : (datum.value < 0 ? '–' : '') + replace(format(abs(datum.value), '.2f'), '.', ',')", "labelPadding": 23, "tickSize": -8, "labelFlush": false, "title": ["Результаты вычисления", "БПФ"], "titleFontSize": 33, "titleX": -123, "titleY": 108, "titleLineHeight": 38, "titleBaseline": "alphabetic", "titleAlign": "center", "titleAngle": -90}},
       "y2": {"datum": 0}
     }},
    {"data": {"name": "bSpk"}, "mark": {"type": "rule", "color": "#1a90d1", "strokeWidth": 1.6},
     "encoding": {
       "x": {"field": "x", "type": "quantitative", "scale": {"domain": [0, 14000], "nice": false, "zero": false}},
       "y": {"field": "y", "type": "quantitative", "scale": {"domain": [0, 0.063], "nice": false, "zero": false},
             "axis": {"orient": "right", "values": [0, 0.02, 0.04, 0.06], "labels": false, "title": null, "tickSize": -8}},
       "y2": {"datum": 0}
     }}
  ],
  "resolve": {"axis": {"y": "independent"}}
},
{
  "width": 765, "height": 597,
  "title": {"text": "в)", "anchor": "start", "frame": "group", "orient": "top", "offset": 0, "dx": -200, "dy": 64, "baseline": "alphabetic", "font": "Liberation Serif", "fontSize": 30, "fontStyle": "italic", "fontWeight": "normal", "color": "#000"},
  "layer": [
    {"data": {"name": "cEnv"}, "mark": {"type": "area", "color": "#0b74bb"},
     "encoding": {
       "x": {"field": "x", "type": "quantitative", "scale": {"domain": [0, 14000], "nice": false, "zero": false},
             "axis": {"values": [0,2000,4000,6000,8000,10000,12000,14000], "labelExpr": "datum.value >= 10000 ? floor(datum.value/1000) + ' 000' : format(datum.value, 'd')", "labelFlush": false, "labelOverlap": false, "labelBaseline": "alphabetic", "labelPadding": 46, "tickSize": -8, "title": "Отсчеты в частотной области", "titleX": 420, "titleY": 93, "titleBaseline": "alphabetic", "titleAlign": "center"}},
       "y": {"field": "hi", "type": "quantitative", "scale": {"domain": [-0.08, 0.058], "nice": false, "zero": false},
             "axis": {"values": [-0.08, -0.06, -0.04, -0.02, 0, 0.02, 0.04], "labelExpr": "datum.value == 0 ? '0' : (datum.value < 0 ? '–' : '') + replace(format(abs(datum.value), '.2f'), '.', ',')", "labelPadding": 23, "tickSize": -8, "labelFlush": false, "title": "Результаты вычисления БПФ", "titleFontSize": 33, "titleX": -122, "titleY": 336, "titleBaseline": "alphabetic", "titleAlign": "center", "titleAngle": -90}},
       "y2": {"field": "lo"}
     }},
    {"data": {"name": "cSpk"}, "mark": {"type": "rule", "color": "#1a90d1", "strokeWidth": 1.6},
     "encoding": {
       "x": {"field": "x", "type": "quantitative", "scale": {"domain": [0, 14000], "nice": false, "zero": false}},
       "y": {"field": "hi", "type": "quantitative", "scale": {"domain": [-0.08, 0.058], "nice": false, "zero": false},
             "axis": {"orient": "right", "values": [-0.08, -0.06, -0.04, -0.02, 0, 0.02, 0.04], "labels": false, "title": null, "tickSize": -8}},
       "y2": {"field": "lo"}
     }}
  ],
  "resolve": {"axis": {"y": "independent"}}
}
]
}
